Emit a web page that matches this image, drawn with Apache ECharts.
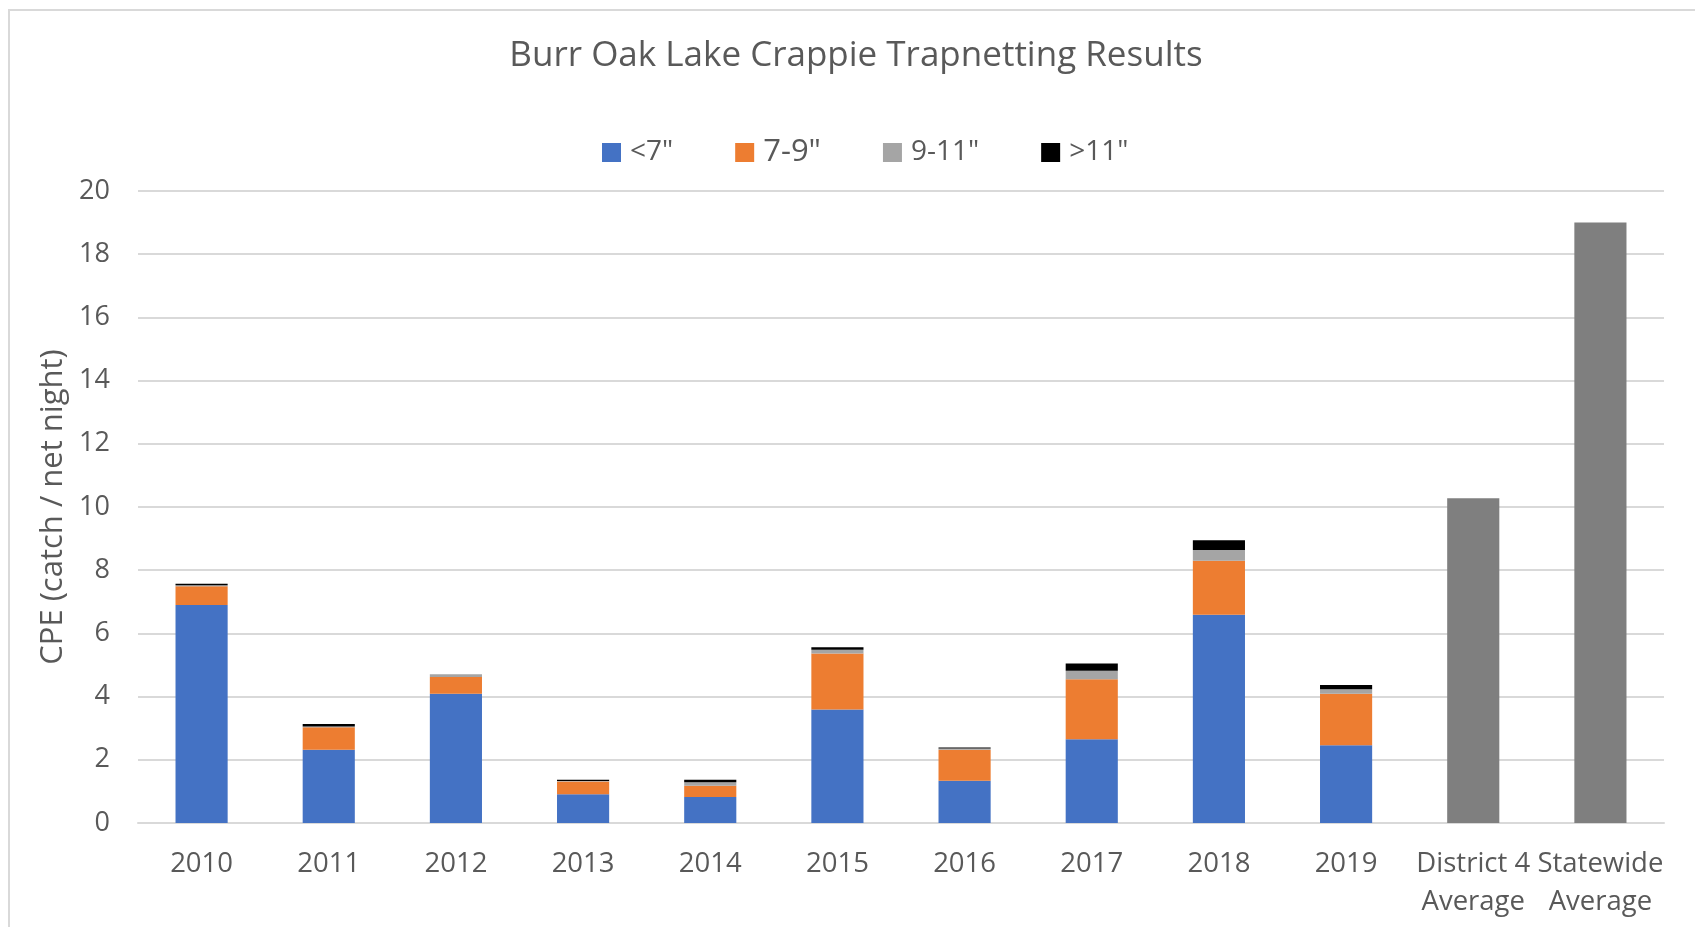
<!DOCTYPE html>
<html>
<head>
<meta charset="utf-8">
<script src="https://cdn.jsdelivr.net/npm/echarts@6/dist/echarts.min.js"></script>
<style>
html,body{margin:0;padding:0;background:#fff;}
#c{width:1695px;height:927px;}
</style>
</head>
<body>
<div id="c"></div>
<script>
const categories = ['2010','2011','2012','2013','2014','2015','2016','2017','2018','2019','District 4\nAverage','Statewide\nAverage'];
const under7 = [6.90, 2.32, 4.09, 0.91, 0.82, 3.59, 1.34, 2.65, 6.59, 2.46, null, null];
const from7to9 = [0.59, 0.71, 0.53, 0.40, 0.36, 1.77, 0.98, 1.90, 1.71, 1.63, null, null];
const from9to11 = [0.03, 0.02, 0.09, 0.02, 0.11, 0.12, 0.04, 0.27, 0.34, 0.14, null, null];
const over11 = [0.05, 0.08, 0.00, 0.04, 0.08, 0.08, 0.03, 0.23, 0.31, 0.14, null, null];
const averages = [null, null, null, null, null, null, null, null, null, null, 10.28, 19.0];
const seriesNames = ['<7"', '7-9"', '9-11"', '>11"'];

const FONT = 'Open Sans';
const chart = echarts.init(document.getElementById('c'), null, {renderer: 'canvas'});
const barCommon = {type: 'bar', stack: 'total', barCategoryGap: '59%'};
chart.setOption({
  backgroundColor: '#ffffff',
  animation: false,
  textStyle: {fontFamily: FONT},
  title: {
    text: 'Burr Oak Lake Crappie Trapnetting Results',
    left: 856, top: 39, textAlign: 'center', padding: 0,
    textStyle: {fontFamily: FONT, fontSize: 35, fontWeight: 'normal', color: '#595959'}
  },
  legend: {
    data: seriesNames,
    left: 602, top: 137, padding: 0,
    itemWidth: 19, itemHeight: 19, itemGap: 62,
    icon: 'rect',
    formatter: function (n) { return n === '7-9"' ? '{b|' + n + '}' : '{n|' + n + '}'; },
    textStyle: {
      fontFamily: FONT, color: '#595959', padding: [0, 0, 0, 4],
      rich: {
        n: {fontFamily: FONT, fontSize: 28, color: '#595959'},
        b: {fontFamily: FONT, fontSize: 31, color: '#595959'}
      }
    }
  },
  grid: {left: 138, right: 31, top: 191, bottom: 104, containLabel: false},
  xAxis: {
    type: 'category', data: categories,
    axisLine: {lineStyle: {color: '#d9d9d9', width: 2}},
    axisTick: {show: false},
    axisLabel: {fontFamily: FONT, fontSize: 27.5, color: '#595959', margin: 22, lineHeight: 38, interval: 0}
  },
  yAxis: {
    type: 'value', min: 0, max: 20, interval: 2,
    name: 'CPE (catch / net night)', nameLocation: 'middle', nameGap: 66,
    nameTextStyle: {fontFamily: FONT, fontSize: 31, color: '#595959'},
    axisLine: {show: false}, axisTick: {show: false},
    splitLine: {lineStyle: {color: '#d9d9d9', width: 2}},
    axisLabel: {fontFamily: FONT, fontSize: 27, color: '#595959', margin: 28}
  },
  graphic: [{
    type: 'rect', shape: {x: 9, y: 10, width: 1700, height: 930},
    style: {fill: null, stroke: '#d9d9d9', lineWidth: 2}, silent: true, z: -1
  }],
  series: [
    Object.assign({name: seriesNames[0], data: under7, itemStyle: {color: '#4472c4'}}, barCommon),
    Object.assign({name: seriesNames[1], data: from7to9, itemStyle: {color: '#ed7d31'}}, barCommon),
    Object.assign({name: seriesNames[2], data: from9to11, itemStyle: {color: '#a5a5a5'}}, barCommon),
    Object.assign({name: seriesNames[3], data: over11, itemStyle: {color: '#000000'}}, barCommon),
    Object.assign({name: 'Average', data: averages, itemStyle: {color: '#7f7f7f'}}, barCommon)
  ]
});
</script>
</body>
</html>
